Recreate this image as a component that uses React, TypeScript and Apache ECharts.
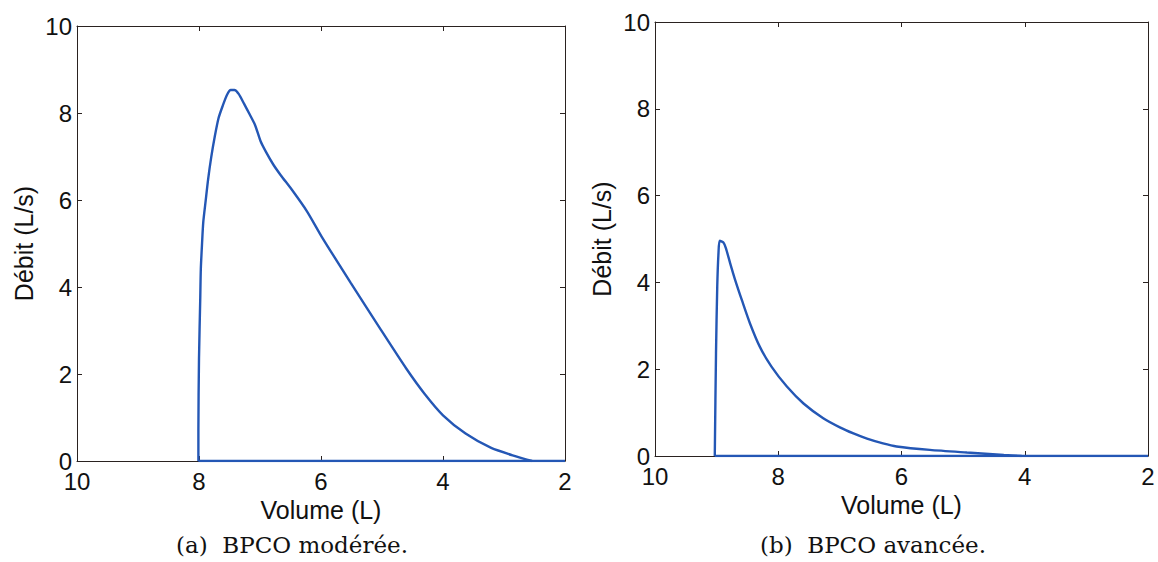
import React, { useEffect, useRef } from "react";
import * as echarts from "echarts";

// Volume (L), Débit (L/s)
const curveA: [number, number][] = [
  [8.01, 0], [8.01, 0.7], [8.0, 2.36], [7.98, 3.7], [7.97, 4.42], [7.95, 5.0],
  [7.93, 5.49], [7.89, 5.99], [7.85, 6.48], [7.8, 6.98], [7.74, 7.47], [7.68, 7.88],
  [7.61, 8.17], [7.54, 8.42], [7.48, 8.53], [7.42, 8.53], [7.35, 8.44], [7.26, 8.21],
  [7.17, 7.97], [7.08, 7.72], [6.99, 7.35], [6.9, 7.1], [6.78, 6.81], [6.66, 6.57],
  [6.48, 6.24], [6.23, 5.74], [5.99, 5.16], [5.51, 4.09], [5.02, 3.02], [4.6, 2.12],
  [4.3, 1.54], [4.0, 1.05], [3.63, 0.63], [3.21, 0.3], [2.79, 0.1], [2.54, 0],
];
const baselineA: [number, number][] = [[8.01, 0], [2, 0]];

const curveB: [number, number][] = [
  [9.03, 0], [9.01, 2.37], [8.99, 3.9], [8.97, 4.67], [8.95, 4.96], [8.89, 4.92],
  [8.85, 4.79], [8.78, 4.44], [8.7, 4.06], [8.59, 3.59], [8.46, 3.06], [8.3, 2.52],
  [8.11, 2.06], [7.86, 1.6], [7.59, 1.21], [7.27, 0.87], [7.0, 0.66], [6.78, 0.52],
  [6.56, 0.4], [6.3, 0.29], [6.08, 0.22], [5.54, 0.14], [4.94, 0.08], [4.34, 0.025],
  [4.05, 0],
];
const baselineB: [number, number][] = [[9.03, 0], [2, 0]];

const xTitle = "Volume (L)";
const yTitle = "Débit (L/s)";
const captions = ["(a)  BPCO modérée.", "(b)  BPCO avancée."];

const AXIS_COLOR = "#2a2220";
const LINE_COLOR = "#2457b5";
const FONT = "'Liberation Sans', Arial, sans-serif";

export default function App() {
  const ref = useRef<HTMLDivElement>(null);
  useEffect(() => {
    if (!ref.current) return;
    const chart = echarts.init(ref.current, null, { renderer: "svg" });
    const grids = [
      { left: 77, top: 26, width: 488, height: 435 },
      { left: 655, top: 22, width: 493, height: 434 },
    ];
    const xAxes: any[] = [];
    const yAxes: any[] = [];
    grids.forEach((_, i) => {
      const common = {
        gridIndex: i,
        type: "value",
        min: 2,
        max: 10,
        interval: 2,
        inverse: true,
        splitLine: { show: false },
        axisLine: { show: true, onZero: false, lineStyle: { color: AXIS_COLOR, width: 1 } },
        axisTick: { show: true, inside: true, length: 5, lineStyle: { color: AXIS_COLOR } },
      };
      xAxes.push({
        ...common,
        position: "bottom",
        name: xTitle,
        nameLocation: "middle",
        nameGap: 30,
        nameTextStyle: { color: "#111", fontSize: 25, fontFamily: FONT },
        axisLabel: { color: "#111", fontSize: 24, fontFamily: FONT, margin: 8, showMinLabel: true, showMaxLabel: true },
      });
      xAxes.push({ ...common, position: "top", axisLabel: { show: false } });
      const ycommon = {
        gridIndex: i,
        type: "value",
        min: 0,
        max: 10,
        interval: 2,
        splitLine: { show: false },
        axisLine: { show: true, onZero: false, lineStyle: { color: AXIS_COLOR, width: 1 } },
        axisTick: { show: true, inside: true, length: 5, lineStyle: { color: AXIS_COLOR } },
      };
      yAxes.push({
        ...ycommon,
        position: "left",
        name: yTitle,
        nameLocation: "middle",
        nameGap: 41,
        nameTextStyle: { color: "#111", fontSize: 25, fontFamily: FONT },
        axisLabel: { color: "#111", fontSize: 24, fontFamily: FONT, margin: 5 },
      });
      yAxes.push({ ...ycommon, position: "right", axisLabel: { show: false } });
    });
    const lineSeries = (data: [number, number][], i: number) => ({
      type: "line",
      xAxisIndex: i * 2,
      yAxisIndex: i * 2,
      data,
      showSymbol: false,
      smooth: 0.25,
      lineStyle: { color: LINE_COLOR, width: 2.4 },
      itemStyle: { color: LINE_COLOR },
      z: 3,
    });
    chart.setOption({
      animation: false,
      backgroundColor: "#ffffff",
      grid: grids,
      xAxis: xAxes,
      yAxis: yAxes,
      series: [
        lineSeries(baselineA, 0),
        lineSeries(curveA, 0),
        lineSeries(baselineB, 1),
        lineSeries(curveB, 1),
      ],
      graphic: [
        {
          type: "text",
          x: 292,
          y: 545,
          style: {
            text: captions[0],
            fill: "#111",
            font: "23px 'DejaVu Serif', 'Liberation Serif', serif",
            textAlign: "center",
            textVerticalAlign: "middle",
          },
        },
        {
          type: "text",
          x: 873,
          y: 545,
          style: {
            text: captions[1],
            fill: "#111",
            font: "23px 'DejaVu Serif', 'Liberation Serif', serif",
            textAlign: "center",
            textVerticalAlign: "middle",
          },
        },
      ],
    });
    return () => chart.dispose();
  }, []);
  return (
    <div
      ref={ref}
      style={{ position: "fixed", left: 0, top: 0, width: 1158, height: 562 }}
    />
  );
}
